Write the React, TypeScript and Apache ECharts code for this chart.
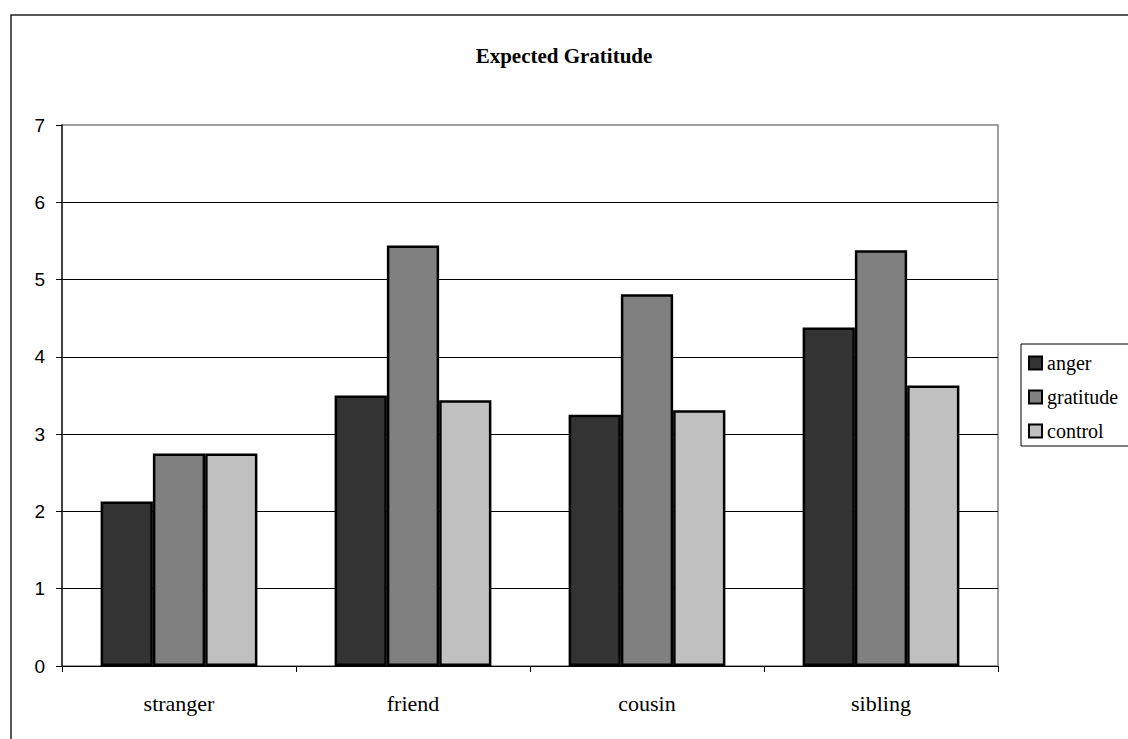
import React, { useEffect, useRef } from "react";
import * as echarts from "echarts";

const categories = ["stranger", "friend", "cousin", "sibling"];
const seriesNames = ["anger", "gratitude", "control"];
const angerValues = [2.13, 3.5, 3.25, 4.38];
const gratitudeValues = [2.75, 5.44, 4.81, 5.38];
const controlValues = [2.75, 3.44, 3.31, 3.63];
const seriesColors = ["#333333", "#808080", "#C0C0C0"];
const titleText = "Expected Gratitude";

const SERIF = "'Liberation Serif', 'Times New Roman', serif";

export default function App() {
  const ref = useRef<HTMLDivElement>(null);
  useEffect(() => {
    document.body.style.margin = "0";
    const chart = echarts.init(ref.current!, null, { renderer: "svg" });
    const values = [angerValues, gratitudeValues, controlValues];
    chart.setOption({
      animation: false,
      backgroundColor: "#ffffff",
      textStyle: { fontFamily: SERIF },
      title: {
        text: titleText,
        left: "center",
        top: 40,
        textStyle: {
          fontFamily: SERIF,
          fontWeight: "bold",
          fontSize: 21,
          color: "#000",
        },
      },
      graphic: [
        {
          type: "rect",
          shape: { x: 11, y: 15, width: 1200, height: 800 },
          style: { fill: "none", stroke: "#222", lineWidth: 1.5 },
          silent: true,
          z: 100,
        },
        {
          type: "rect",
          shape: { x: 1021, y: 344, width: 120, height: 102 },
          style: { fill: "none", stroke: "#000", lineWidth: 1 },
          silent: true,
          z: 100,
        },
      ],
      legend: {
        orient: "vertical",
        left: 1028,
        top: 353,
        itemWidth: 13,
        itemHeight: 13,
        itemGap: 14,
        icon: "rect",
        padding: 0,
        formatter: "{s|{name}}",
        textStyle: {
          fontFamily: SERIF,
          fontSize: 20,
          color: "#000",
          rich: {
            s: { fontFamily: SERIF, fontSize: 20, color: "#000" },
          },
        },
        data: seriesNames,
      },
      grid: {
        left: 62,
        top: 125,
        width: 936,
        height: 541,
        show: true,
        borderColor: "#808080",
        borderWidth: 1.5,
        containLabel: false,
      },
      xAxis: {
        type: "category",
        data: categories,
        axisLine: { show: true, lineStyle: { color: "#000", width: 1 } },
        axisTick: { show: true, length: 6, alignWithLabel: false, interval: 0, lineStyle: { color: "#000" } },
        axisLabel: {
          fontFamily: SERIF,
          fontSize: 22,
          color: "#000",
          margin: 26,
        },
        splitLine: { show: false },
      },
      yAxis: {
        type: "value",
        min: 0,
        max: 7,
        interval: 1,
        axisLine: { show: true, lineStyle: { color: "#222", width: 1.5 } },
        axisTick: { show: true, length: 6, lineStyle: { color: "#000" } },
        axisLabel: {
          fontFamily: "'Liberation Sans', Arial, sans-serif",
          fontSize: 19,
          color: "#000",
          margin: 17,
        },
        splitLine: { show: true, showMaxLine: false, lineStyle: { color: "#000", width: 1 } },
      },
      series: seriesNames.map((name, i) => ({
        name,
        type: "bar",
        data: values[i],
        barGap: "0%",
        barCategoryGap: "33%",
        itemStyle: { color: seriesColors[i], borderColor: "#000", borderWidth: 2.5 },
      })),
    });
    return () => chart.dispose();
  }, []);
  return (
    <div
      ref={ref}
      style={{ position: "absolute", left: 0, top: 0, width: 1128, height: 739 }}
    />
  );
}
